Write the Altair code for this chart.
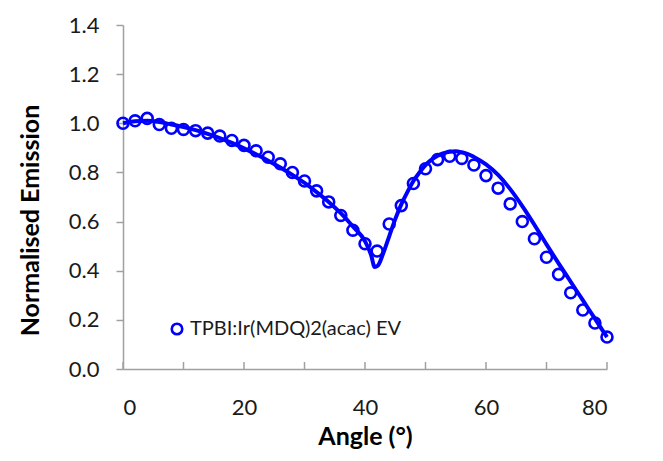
import altair as alt
import pandas as pd

# Measured points (circles)
meas_angle = [0, 2, 4, 6, 8, 10, 12, 14, 16, 18, 20, 22, 24, 26, 28, 30, 32, 34, 36, 38,
              40, 42, 44, 46, 48, 50, 52, 54, 56, 58, 60, 62, 64, 66, 68, 70, 72, 74, 76, 78, 80]
meas_value = [1.00, 1.01, 1.02, 0.995, 0.98, 0.975, 0.97, 0.96, 0.948, 0.93, 0.91, 0.888, 0.862,
              0.835, 0.80, 0.765, 0.725, 0.68, 0.625, 0.565, 0.51, 0.48, 0.59, 0.665, 0.755,
              0.815, 0.852, 0.866, 0.857, 0.83, 0.787, 0.736, 0.672, 0.60, 0.53, 0.455, 0.385,
              0.31, 0.24, 0.187, 0.13]

# Simulated curve (solid line)
sim_angle = [0, 2, 4, 6, 8, 10, 12, 14, 16, 18, 20, 22, 24, 26, 28, 30, 32, 34, 36, 38, 40,
             41, 41.6, 42.1, 43, 44, 45, 46, 47, 48, 49, 50, 51, 52, 53, 54, 55, 56, 57, 58,
             60, 62, 64, 66, 68, 70, 72, 74, 76, 78, 80]
sim_value = [1.00, 1.008, 1.01, 1.005, 0.995, 0.985, 0.972, 0.957, 0.94, 0.92, 0.898, 0.874,
             0.848, 0.82, 0.79, 0.757, 0.72, 0.68, 0.634, 0.58, 0.52, 0.465, 0.415, 0.42,
             0.47, 0.54, 0.61, 0.67, 0.72, 0.765, 0.80, 0.83, 0.852, 0.868, 0.878, 0.884,
             0.886, 0.882, 0.875, 0.863, 0.833, 0.79, 0.732, 0.663, 0.587, 0.507, 0.43,
             0.355, 0.28, 0.205, 0.13]

x_ticks = [0, 10, 20, 30, 40, 50, 60, 70, 80]
y_ticks = [0.0, 0.2, 0.4, 0.6, 0.8, 1.0, 1.2, 1.4]
series_name = "TPBI:Ir(MDQ)2(acac) EV"

meas = pd.DataFrame({"Angle": meas_angle, "Value": meas_value, "Series": series_name})
sim = pd.DataFrame({"Angle": sim_angle, "Value": sim_value})
ticks = pd.DataFrame({"Angle": x_ticks})

W, H = 484, 344
FONT = "Lato"
BLUE = "#0000FF"
AXIS_GREY = "#A0A0A0"

xscale = alt.Scale(domain=[0, 80], nice=False)
yscale = alt.Scale(domain=[0, 1.4], nice=False)

x_axis = alt.Axis(values=[0, 20, 40, 60, 80], grid=False, ticks=False, domainColor=AXIS_GREY,
                  domainWidth=1.5, labelFontSize=22, labelFont=FONT, labelColor="#1a1a1a",
                  labelPadding=28, title="Angle (°)", titleFont=FONT, titleFontSize=25,
                  titleFontWeight="bold", titleColor="#000000", titlePadding=6)
y_axis = alt.Axis(values=y_ticks, format=".1f", grid=False, tickColor=AXIS_GREY, tickSize=7,
                  tickWidth=1.5, domainColor=AXIS_GREY, domainWidth=1.5, labelFontSize=22,
                  labelFont=FONT, labelColor="#1a1a1a", labelPadding=17,
                  title="Normalised Emission", titleFont=FONT, titleFontSize=25,
                  titleFontWeight="bold", titleColor="#000000", titleX=-93, titleY=195,
                  titleAngle=-90, titleAlign="center", titleBaseline="middle")

line = alt.Chart(sim).mark_line(color=BLUE, strokeWidth=4, interpolate="monotone").encode(
    x=alt.X("Angle:Q", scale=xscale, axis=x_axis),
    y=alt.Y("Value:Q", scale=yscale, axis=y_axis),
)

points = alt.Chart(meas).mark_point(shape="circle", filled=False, size=120, strokeWidth=2.6,
                                    opacity=1).encode(
    x=alt.X("Angle:Q", scale=xscale),
    y=alt.Y("Value:Q", scale=yscale),
    color=alt.Color("Series:N", scale=alt.Scale(range=[BLUE]),
                    legend=alt.Legend(title=None, orient="none", legendX=44, legendY=294,
                                      labelFont=FONT, labelFontSize=20, labelColor="#1a1a1a",
                                      labelLimit=0, symbolSize=110, symbolStrokeWidth=2.6,
                                      symbolType="circle", symbolOpacity=1,
                                      symbolFillColor="white", padding=0, labelOffset=3)),
)

xticks = alt.Chart(ticks).mark_rule(color=AXIS_GREY, strokeWidth=1.5).encode(
    x=alt.X("Angle:Q", scale=xscale),
    y=alt.value(H - 7),
    y2=alt.value(H),
)

chart = alt.layer(xticks, line, points).properties(
    width=W, height=H,
    autosize=alt.AutoSizeParams(type="none"),
    padding={"left": 115, "top": 17, "right": 40, "bottom": 92},
).configure_view(stroke=None)

chart.save("out.html", embed_options={"renderer": "svg", "actions": False})
